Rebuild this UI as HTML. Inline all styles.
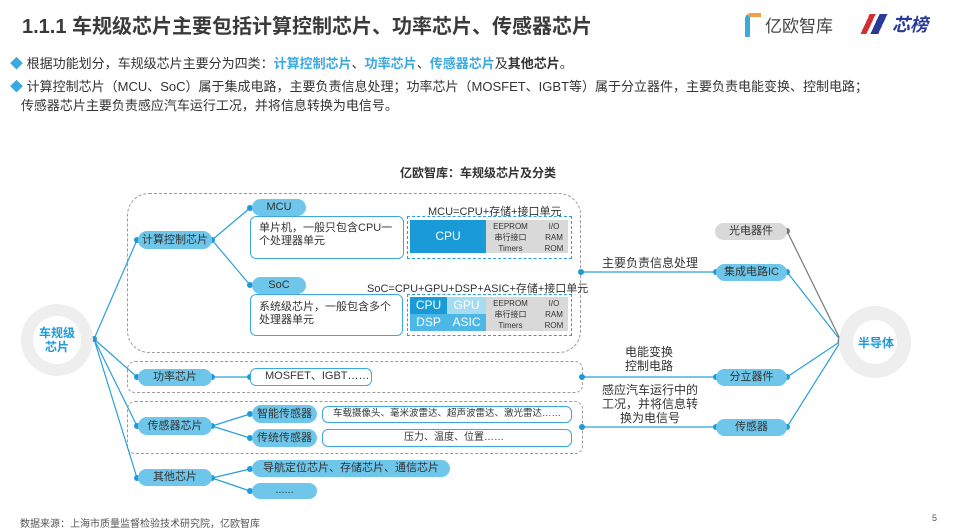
<!DOCTYPE html>
<html><head><meta charset="utf-8"><style>
*{margin:0;padding:0;box-sizing:border-box}
body{width:954px;height:521px;background:#fff;position:relative;overflow:hidden;font-family:"Liberation Sans","Noto Sans CJK SC",sans-serif;color:#333}
.a{position:absolute;white-space:nowrap}
.pill{position:absolute;background:#6ec6ea;border-radius:9px;color:#333;font-size:11px;text-align:center;white-space:nowrap}
.box{position:absolute;border:1.5px solid #3aa9df;border-radius:6px;background:#fff;font-size:11px;color:#333}
.dash{position:absolute;border:1.3px dashed #9a9a9a}
.c{position:absolute;text-align:center;font-size:12px;color:#fff}
.g{position:absolute;font-size:8px;color:#333;text-align:center;line-height:11px}
</style></head><body>
<div class="a" style="left:22px;top:10px;font-size:20px;font-weight:bold;color:#3a3a3a">1.1.1 车规级芯片主要包括计算控制芯片、功率芯片、传感器芯片</div>
<div class="a" style="left:745px;top:13px;width:16px;height:24px;border-left:5px solid #3aa9df;border-top:4px solid #f0a040;border-radius:6px 0 0 0"></div>
<div class="a" style="left:765px;top:12px;font-size:17px;color:#444">亿欧智库</div>
<div class="a" style="left:858px;top:14px;width:30px;height:20px;background:linear-gradient(115deg,transparent 30%,#d03030 30%,#d03030 45%,transparent 45%,transparent 55%,#2a3a9a 55%,#2a3a9a 75%,transparent 75%)"></div>
<div class="a" style="left:892px;top:11px;font-size:18px;font-weight:bold;font-style:italic;color:#2a3a9a">芯榜</div>

<div class="a" style="left:10px;top:53px;font-size:13px"><span style="color:#3aa9df">◆</span> 根据功能划分，车规级芯片主要分为四类：<b style="color:#3aa9df">计算控制芯片</b>、<b style="color:#3aa9df">功率芯片</b>、<b style="color:#3aa9df">传感器芯片</b>及<b>其他芯片</b>。</div>
<div class="a" style="left:10px;top:77px;font-size:13px;line-height:19px"><span style="color:#3aa9df">◆</span> 计算控制芯片（MCU、SoC）属于集成电路，主要负责信息处理；功率芯片（MOSFET、IGBT等）属于分立器件，主要负责电能变换、控制电路；<br>&nbsp;&nbsp;&nbsp;传感器芯片主要负责感应汽车运行工况，并将信息转换为电信号。</div>

<div class="a" style="left:400px;top:164px;font-size:12px;font-weight:bold">亿欧智库：车规级芯片及分类</div>

<div class="dash" style="left:127px;top:193px;width:454px;height:160px;border-radius:22px"></div>
<div class="dash" style="left:127px;top:361px;width:456px;height:32px;border-radius:8px"></div>
<div class="dash" style="left:127px;top:401px;width:456px;height:53px;border-radius:8px"></div>

<svg class="a" style="left:0;top:0" width="954" height="521">
<g stroke="#2aa0da" stroke-width="1.2" fill="none">
<path d="M94 339L137 240M94 339L137 377M94 339L137 426M94 339L137 478"/>
<path d="M212 240L250 208M212 240L250 285M212 377L250 377M212 426L250 414M212 426L250 438M212 478L250 469M212 478L250 491"/>
<path d="M581 272L716 272M582 377L716 377M582 427L716 427"/>
<path d="M787 272L841 341M787 377L841 341M787 427L841 341"/>
</g>
<path d="M787 231L841 341" stroke="#777" stroke-width="1.2"/>
<g fill="#1e9bd7">
<circle cx="94" cy="339" r="3"/>
<circle cx="137" cy="240" r="3"/><circle cx="212" cy="240" r="3"/><circle cx="250" cy="208" r="3"/><circle cx="250" cy="285" r="3"/>
<circle cx="137" cy="377" r="3"/><circle cx="212" cy="377" r="3"/><circle cx="250" cy="377" r="3"/>
<circle cx="137" cy="426" r="3"/><circle cx="212" cy="426" r="3"/><circle cx="250" cy="414" r="3"/><circle cx="250" cy="438" r="3"/>
<circle cx="137" cy="478" r="3"/><circle cx="212" cy="478" r="3"/><circle cx="250" cy="469" r="3"/><circle cx="250" cy="491" r="3"/>
<circle cx="581" cy="272" r="3"/><circle cx="582" cy="377" r="3"/><circle cx="582" cy="427" r="3"/>
<circle cx="716" cy="272" r="3"/><circle cx="787" cy="272" r="3"/><circle cx="716" cy="377" r="3"/><circle cx="787" cy="377" r="3"/><circle cx="716" cy="427" r="3"/><circle cx="787" cy="427" r="3"/>
</g>
<circle cx="787" cy="231" r="3" fill="#777"/><circle cx="841" cy="341" r="3.5" fill="#777"/>
<circle cx="57" cy="340" r="36" fill="#eeeeee"/><circle cx="57" cy="340" r="24" fill="#fff"/>
<circle cx="875" cy="342" r="36" fill="#eeeeee"/><circle cx="875" cy="342" r="22" fill="#fff"/>
</svg>
<div class="a" style="left:37px;top:326px;width:40px;text-align:center;font-size:12px;font-weight:bold;color:#1e9bd7;line-height:14px">车规级<br>芯片</div>
<div class="a" style="left:858px;top:334px;font-size:12px;font-weight:bold;color:#1e9bd7">半导体</div>

<div class="pill" style="left:138px;top:231px;width:74px;height:18px;line-height:18px">计算控制芯片</div>
<div class="pill" style="left:252px;top:199px;width:54px;height:17px;line-height:17px">MCU</div>
<div class="pill" style="left:252px;top:277px;width:54px;height:17px;line-height:17px">SoC</div>
<div class="box" style="left:250px;top:216px;width:154px;height:43px;padding:5px 8px;line-height:13px">单片机，一般只包含CPU一个处理器单元</div>
<div class="box" style="left:250px;top:294px;width:153px;height:42px;padding:6px 8px;line-height:13px">系统级芯片，一般包含多个处理器单元</div>

<div class="a" style="left:428px;top:203px;font-size:11px">MCU=CPU+存储+接口单元</div>
<div class="a" style="left:367px;top:280px;font-size:11px">SoC=CPU+GPU+DSP+ASIC+存储+接口单元</div>
<div class="a" style="left:407px;top:216px;width:165px;height:43px;border:1.2px dashed #2aa0da"></div>
<div class="a" style="left:407px;top:294px;width:165px;height:42px;border:1.2px dashed #2aa0da"></div>
<div class="c" style="left:410px;top:220px;width:76px;height:33px;line-height:33px;background:#1a9ad6">CPU</div>
<div class="a" style="left:486px;top:220px;width:82px;height:33px;background:#d9d9d9"></div>
<div class="g" style="left:488px;top:221px;width:45px">EEPROM<br>串行接口<br>Timers</div>
<div class="g" style="left:540px;top:221px;width:28px">I/O<br>RAM<br>ROM</div>
<div class="c" style="left:410px;top:297px;width:37px;height:17px;line-height:17px;background:#1a9ad6">CPU</div>
<div class="c" style="left:447px;top:297px;width:39px;height:17px;line-height:17px;background:#a5dcf2">GPU</div>
<div class="c" style="left:410px;top:314px;width:37px;height:17px;line-height:17px;background:#4db8e6">DSP</div>
<div class="c" style="left:447px;top:314px;width:39px;height:17px;line-height:17px;background:#4db8e6">ASIC</div>
<div class="a" style="left:486px;top:297px;width:82px;height:34px;background:#d9d9d9"></div>
<div class="g" style="left:488px;top:298px;width:45px">EEPROM<br>串行接口<br>Timers</div>
<div class="g" style="left:540px;top:298px;width:28px">I/O<br>RAM<br>ROM</div>

<div class="pill" style="left:138px;top:369px;width:74px;height:17px;line-height:17px">功率芯片</div>
<div class="box" style="left:250px;top:368px;width:122px;height:18px;line-height:15px;padding-left:14px;white-space:nowrap">MOSFET、IGBT……</div>
<div class="pill" style="left:138px;top:417px;width:74px;height:18px;line-height:18px">传感器芯片</div>
<div class="pill" style="left:252px;top:405px;width:65px;height:18px;line-height:18px">智能传感器</div>
<div class="pill" style="left:252px;top:429px;width:65px;height:18px;line-height:18px">传统传感器</div>
<div class="box" style="left:322px;top:406px;width:250px;height:17px;line-height:14px;font-size:9.5px;padding-left:10px;white-space:nowrap;overflow:hidden">车载摄像头、毫米波雷达、超声波雷达、激光雷达……</div>
<div class="box" style="left:322px;top:429px;width:250px;height:18px;line-height:15px;font-size:10px;padding-left:81px;white-space:nowrap">压力、温度、位置……</div>
<div class="pill" style="left:138px;top:469px;width:74px;height:17px;line-height:17px">其他芯片</div>
<div class="pill" style="left:252px;top:460px;width:198px;height:17px;line-height:17px">导航定位芯片、存储芯片、通信芯片</div>
<div class="pill" style="left:252px;top:483px;width:65px;height:16px;line-height:14px">......</div>

<div class="a" style="left:602px;top:254px;font-size:12px">主要负责信息处理</div>
<div class="a" style="left:625px;top:345px;font-size:12px;line-height:14px;text-align:center">电能变换<br>控制电路</div>
<div class="a" style="left:602px;top:383px;font-size:12px;line-height:14px;text-align:center">感应汽车运行中的<br>工况，并将信息转<br>换为电信号</div>

<div class="pill" style="left:715px;top:223px;width:72px;height:17px;line-height:17px;background:#d9d9d9">光电器件</div>
<div class="pill" style="left:716px;top:264px;width:71px;height:17px;line-height:17px">集成电路IC</div>
<div class="pill" style="left:716px;top:369px;width:71px;height:17px;line-height:17px">分立器件</div>
<div class="pill" style="left:716px;top:419px;width:71px;height:17px;line-height:17px">传感器</div>

<div class="a" style="left:20px;top:515px;font-size:10px;color:#555">数据来源：上海市质量监督检验技术研究院，亿欧智库</div>
<div class="a" style="left:932px;top:513px;font-size:9px;color:#555">5</div>
</body></html>
